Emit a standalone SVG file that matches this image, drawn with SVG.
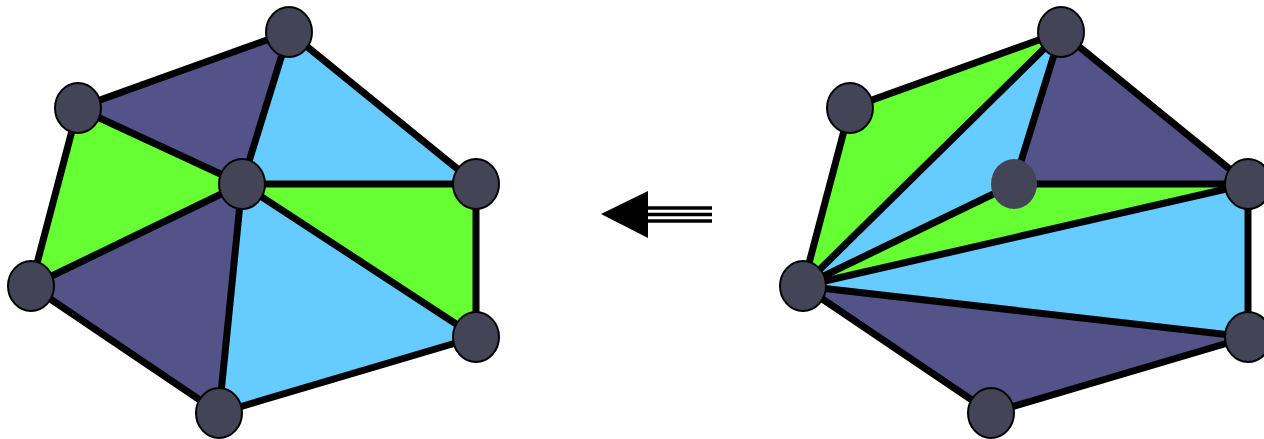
<svg xmlns="http://www.w3.org/2000/svg" width="1264" height="439" viewBox="0 0 1264 439">
<style>
.p{fill:#535389}.b{fill:#66ccff}.g{fill:#66ff33}
.e{stroke:#000;stroke-width:7;stroke-linecap:round;fill:none}
.n{fill:#444457;stroke:#000;stroke-width:2}
.n0{fill:#444457}
</style>
<rect width="1264" height="439" fill="#fff"/>
<g id="left-faces">
<polygon class="p" points="289,32 78,108 242,184"/>
<polygon class="b" points="289,32 242,184 476,184"/>
<polygon class="g" points="78,108 242,184 31,286"/>
<polygon class="p" points="242,184 31,286 219,413"/>
<polygon class="b" points="242,184 219,413 476,337"/>
<polygon class="g" points="242,184 476,184 476,337"/>
</g>
<g id="right-faces">
<polygon class="g" points="803,286 850,108 1061,32"/>
<polygon class="b" points="803,286 1061,32 1014,184"/>
<polygon class="p" points="1061,32 1014,184 1248,184"/>
<polygon class="g" points="803,286 1014,184 1248,184"/>
<polygon class="b" points="803,286 1248,184 1248,337"/>
<polygon class="p" points="803,286 1248,337 991,413"/>
</g>
<g id="connectors">
<polyline class="e" points="289,32 78,108 31,286 219,413 476,337 476,184 289,32"/>
<line class="e" x1="242" y1="184" x2="289" y2="32"/>
<line class="e" x1="242" y1="184" x2="78" y2="108"/>
<line class="e" x1="242" y1="184" x2="31" y2="286"/>
<line class="e" x1="242" y1="184" x2="219" y2="413"/>
<line class="e" x1="242" y1="184" x2="476" y2="337"/>
<line class="e" x1="242" y1="184" x2="476" y2="184"/>
<polyline class="e" points="1061,32 850,108 803,286 991,413 1248,337 1248,184 1061,32"/>
<line class="e" x1="803" y1="286" x2="1061" y2="32"/>
<line class="e" x1="803" y1="286" x2="1014" y2="184"/>
<line class="e" x1="803" y1="286" x2="1248" y2="184"/>
<line class="e" x1="803" y1="286" x2="1248" y2="337"/>
<line class="e" x1="1061" y1="32" x2="1014" y2="184"/>
<line class="e" x1="1014" y1="184" x2="1248" y2="184"/>
</g>
<g id="arrow">
<polygon points="601,214 648,191 648,238" fill="#000"/>
<line x1="646" y1="208" x2="712" y2="208" stroke="#000" stroke-width="3.5"/>
<line x1="646" y1="214.5" x2="712" y2="214.5" stroke="#000" stroke-width="3.5"/>
<line x1="646" y1="221" x2="712" y2="221" stroke="#000" stroke-width="3.5"/>
</g>
<g id="left-nodes">
<ellipse id="lA" class="n" cx="289" cy="32" rx="23" ry="25"/>
<ellipse id="lB" class="n" cx="78" cy="108" rx="23" ry="25"/>
<ellipse id="lC" class="n" cx="242" cy="184" rx="23" ry="25"/>
<ellipse id="lD" class="n" cx="476" cy="184" rx="23" ry="25"/>
<ellipse id="lE" class="n" cx="31" cy="286" rx="23" ry="25"/>
<ellipse id="lF" class="n" cx="219" cy="413" rx="23" ry="25"/>
<ellipse id="lG" class="n" cx="476" cy="337" rx="23" ry="25"/>
</g>
<g id="right-nodes">
<ellipse id="rA" class="n" cx="1061" cy="32" rx="23" ry="25"/>
<ellipse id="rB" class="n" cx="850" cy="108" rx="23" ry="25"/>
<ellipse id="rC" class="n0" cx="1014" cy="184" rx="23" ry="25"/>
<ellipse id="rD" class="n" cx="1248" cy="184" rx="23" ry="25"/>
<ellipse id="rE" class="n" cx="803" cy="286" rx="23" ry="25"/>
<ellipse id="rF" class="n" cx="991" cy="413" rx="23" ry="25"/>
<ellipse id="rG" class="n" cx="1248" cy="337" rx="23" ry="25"/>
</g>
</svg>
